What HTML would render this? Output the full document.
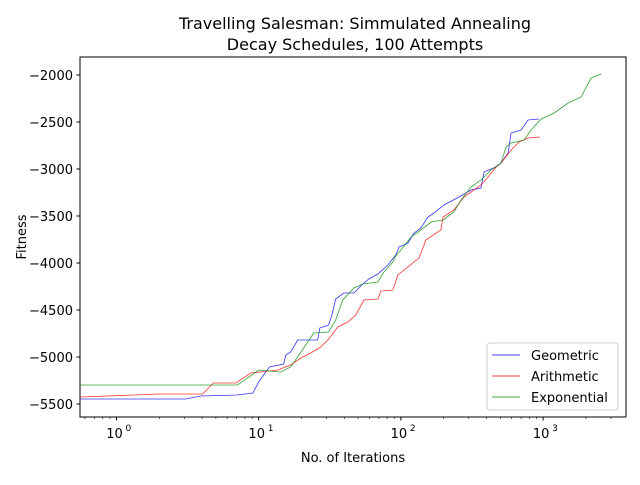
<!DOCTYPE html>
<html><head><meta charset="utf-8"><style>
body{margin:0;background:#fff;}
svg text{font-family:"DejaVu Sans","Liberation Sans",sans-serif;fill:#000;}
</style></head><body>
<svg id="chart" width="640" height="480" viewBox="0 0 640 480" xmlns="http://www.w3.org/2000/svg">
<rect width="640" height="480" fill="#fff"/>
<text x="355" y="29" font-size="16" text-anchor="middle">Travelling Salesman: Simmulated Annealing</text>
<text x="355" y="50" font-size="16" text-anchor="middle">Decay Schedules, 100 Attempts</text>
<g id="grid"></g>
<g id="series"></g>
<rect x="80" y="57" width="546" height="360" fill="none" stroke="#000" stroke-width="1"/>
<g id="axes"></g>
<text x="353" y="462" font-size="13" text-anchor="middle">No. of Iterations</text>
<text transform="translate(26,237) rotate(-90)" font-size="13" text-anchor="middle">Fitness</text>
<g>
<rect x="487" y="343" width="131" height="67" rx="3" fill="#fff" fill-opacity="0.8" stroke="#ccc"/>
<line x1="492" y1="355" x2="520" y2="355" stroke="#00f" stroke-opacity="0.75"/>
<text x="531" y="360" font-size="13">Geometric</text>
<line x1="492" y1="376" x2="520" y2="376" stroke="#f00" stroke-opacity="0.75"/>
<text x="531" y="381" font-size="13">Arithmetic</text>
<line x1="492" y1="397" x2="520" y2="397" stroke="#080" stroke-opacity="0.75"/>
<text x="531" y="402" font-size="13">Exponential</text>
</g>
</svg>
<script>
const geoIter=[0.56,3.06,3.9,7.1,9.1,10,11.9,15,15.5,16.8,18.8,26,26.9,31,32.7,34.8,39.7,46.7,54,59.5,68.9,81,92,97,112,124,138,155,171,201,256,311,366,384,467,506,567,596,700,784,937];
const geoFit=[-5447,-5447,-5415,-5404,-5383,-5266,-5106,-5074,-4979,-4947,-4819,-4819,-4691,-4660,-4553,-4383,-4319,-4319,-4223,-4170,-4117,-4021,-3915,-3830,-3787,-3681,-3628,-3511,-3468,-3383,-3298,-3223,-3202,-3032,-2979,-2936,-2830,-2617,-2585,-2479,-2468];
const ariIter=[0.56,1.98,4.03,4.8,6.9,8.8,13.6,16.8,19.8,23.2,27.3,30.6,36,42.4,48.2,54.9,68.9,72.3,87.8,95.2,134,150,191,198,236,278,311,366,410,467,506,596,678,784,952];
const ariFit=[-5426,-5394,-5394,-5277,-5277,-5170,-5138,-5085,-5011,-4957,-4894,-4819,-4681,-4628,-4553,-4394,-4383,-4298,-4287,-4128,-3947,-3755,-3649,-3511,-3436,-3298,-3245,-3170,-3085,-2979,-2936,-2798,-2713,-2670,-2660];
const expIter=[0.56,7.1,10,14.3,16.8,19.8,24.4,31,34.8,39,46.7,54,68.9,75.9,87.8,92,100,118,138,163,198,236,265,311,366,430,506,549,596,735,823,968,1195,1500,1852,2009,2180,2560];
const expFit=[-5298,-5298,-5138,-5160,-5106,-4947,-4745,-4734,-4606,-4394,-4266,-4223,-4202,-4096,-3989,-3926,-3862,-3723,-3649,-3564,-3543,-3457,-3330,-3191,-3117,-3011,-2936,-2766,-2723,-2691,-2585,-2468,-2404,-2298,-2234,-2128,-2032,-1989];
const yTicks=[-5500,-5000,-4500,-4000,-3500,-3000,-2500,-2000];
const xDecades=[0,1,2,3];

const NS="http://www.w3.org/2000/svg";
const X0=116.5, DEC=142.2;
function xs(v){return X0+Math.log10(v)*DEC;}
function ys(v){return 75+(-2000-v)*47/500;}
function mk(tag,attrs,parent){const e=document.createElementNS(NS,tag);for(const k in attrs)e.setAttribute(k,attrs[k]);parent.appendChild(e);return e;}
const axes=document.getElementById('axes');
yTicks.forEach(t=>{
  const y=ys(t);
  const l=mk('line',{x1:76.5,x2:80,y1:y,y2:y,stroke:'#000'},axes);
  
  
  const tx=mk('text',{x:73,y:y+5,'font-size':13,'text-anchor':'end'},axes);
  tx.textContent='\u2212'+Math.abs(t);
  
  
});
for(let d=-1;d<=3;d++){
  for(let m=1;m<10;m++){
    const v=m*Math.pow(10,d);const x=xs(v);
    if(x<80||x>626)continue;
    const l=mk('line',{x1:x,x2:x,y1:417,y2:m===1?420.5:419,stroke:'#000','stroke-width':m===1?1:0.6},axes);
    
    
  }
}
xDecades.forEach(d=>{
  const x=xs(Math.pow(10,d));
  const t=mk('text',{x:x-2,y:438,'font-size':13,'text-anchor':'middle'},axes);
  t.textContent='10';
  
  
  const s=mk('text',{x:x+9,y:431,'font-size':9},axes);
  s.textContent=String(d);
  
  
});
const ser=document.getElementById('series');
function draw(iter,fit,color,name){
  const pts=iter.map((v,i)=>Math.max(80,xs(v)).toFixed(1)+','+ys(fit[i]).toFixed(1)).join(' ');
  const p=mk('polyline',{points:pts,fill:'none',stroke:color,'stroke-width':0.8,'stroke-opacity':0.8},ser);
  
  
}
draw(geoIter,geoFit,'#00f','series-geometric');
draw(ariIter,ariFit,'#f00','series-arithmetic');
draw(expIter,expFit,'#080','series-exponential');
</script>
</body></html>
